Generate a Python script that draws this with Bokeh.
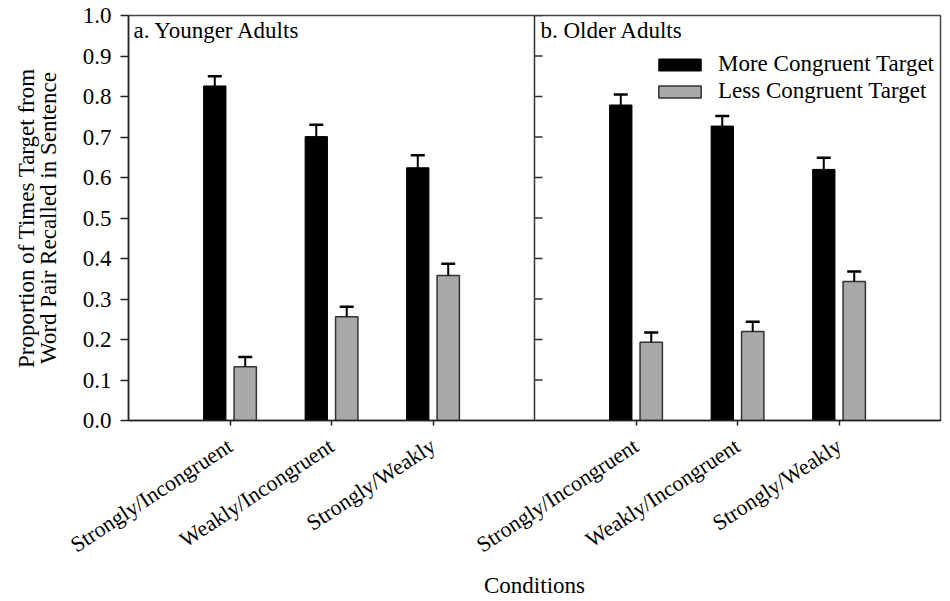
import math
from bokeh.plotting import figure
from bokeh.models import (Range1d, FixedTicker, Span, Label, Legend, LegendItem,
                          Whisker, TeeHead, ColumnDataSource, PrintfTickFormatter)
from bokeh.embed import file_html
from bokeh.resources import INLINE

# ---------------- data ----------------
conditions = ["Strongly/Incongruent", "Weakly/Incongruent", "Strongly/Weakly"]
panels = ["a. Younger Adults", "b. Older Adults"]
series = ["More Congruent Target", "Less Congruent Target"]

young_more = [0.826, 0.701, 0.624]
young_more_err = [0.024, 0.029, 0.031]
young_less = [0.133, 0.256, 0.358]
young_less_err = [0.024, 0.025, 0.029]

older_more = [0.779, 0.727, 0.620]
older_more_err = [0.026, 0.025, 0.029]
older_less = [0.193, 0.220, 0.343]
older_less_err = [0.024, 0.024, 0.025]

y_ticks = [0.0, 0.1, 0.2, 0.3, 0.4, 0.5, 0.6, 0.7, 0.8, 0.9, 1.0]

FONT = "Liberation Serif"
FS = "23px"
FS_X = "22px"

# positions: panel a at 1..3, panel b at 5..7 (divider at 4)
pos_a = [i + 1 for i in range(len(conditions))]
pos_b = [i + 5 for i in range(len(conditions))]
centers = pos_a + pos_b
off = 0.15
bw = 0.22

more_vals = young_more + older_more
more_err = young_more_err + older_more_err
less_vals = young_less + older_less
less_err = young_less_err + older_less_err

src_more = ColumnDataSource(dict(
    x=[c - off for c in centers], top=more_vals,
    upper=[v + e for v, e in zip(more_vals, more_err)]))
src_less = ColumnDataSource(dict(
    x=[c + off for c in centers], top=less_vals,
    upper=[v + e for v, e in zip(less_vals, less_err)]))

p = figure(width=948, height=600, x_range=Range1d(0, 8), y_range=Range1d(0, 1.0),
           output_backend="svg", toolbar_location=None,
           min_border_left=128, min_border_right=8, min_border_top=15, min_border_bottom=178)

p.xgrid.visible = False
p.ygrid.visible = False
p.outline_line_color = "#444444"
p.outline_line_width = 1.5
p.background_fill_color = "white"
p.border_fill_color = "white"

r_more = p.vbar(x="x", top="top", width=bw, source=src_more,
                fill_color="black", line_color="black", line_width=1)
r_less = p.vbar(x="x", top="top", width=bw, source=src_less,
                fill_color="#a9a9a9", line_color="#333333", line_width=1.5)

for src in (src_more, src_less):
    p.add_layout(Whisker(base="x", lower="top", upper="upper", source=src,
                         dimension="height", lower_head=None,
                         upper_head=TeeHead(size=14, line_width=2.5, line_color="black"),
                         line_width=2, line_color="black", level="overlay"))

# divider between panels with inward ticks
p.add_layout(Span(location=4, dimension="height", line_color="#333333", line_width=1.5))
p.ray(x=[4] * (len(y_ticks) - 1), y=y_ticks[1:], length=8, length_units="screen",
      angle=0, line_color="#333333", line_width=1.5)

# y axis
yax = p.yaxis[0]
yax.ticker = FixedTicker(ticks=y_ticks)
yax.formatter = PrintfTickFormatter(format="%.1f")
yax.major_tick_out = 8
yax.major_tick_in = 0
yax.minor_tick_line_color = None
yax.major_label_standoff = 9
yax.major_label_text_font = FONT
yax.major_label_text_font_size = FS
yax.major_label_text_color = "black"
yax.axis_line_color = "#222222"
yax.axis_line_width = 1.5
yax.major_tick_line_color = "#222222"
yax.major_tick_line_width = 1.5
yax.axis_label = "Proportion of Times Target from\nWord Pair Recalled in Sentence"
yax.axis_label_text_font = FONT
yax.axis_label_text_font_size = FS
yax.axis_label_text_font_style = "normal"
yax.axis_label_text_color = "black"
yax.axis_label_text_line_height = 0.88
yax.axis_label_standoff = 19

# x axis
xax = p.xaxis[0]
xax.ticker = FixedTicker(ticks=centers)
xax.major_label_overrides = {c: conditions[i % 3] for i, c in enumerate(centers)}
xax.major_label_orientation = 0.58
xax.major_tick_out = 5
xax.major_tick_in = 0
xax.minor_tick_line_color = None
xax.major_label_standoff = 18
xax.major_label_text_font = FONT
xax.major_label_text_font_size = FS_X
xax.major_label_text_color = "black"
xax.axis_line_color = "#222222"
xax.axis_line_width = 1.5
xax.major_tick_line_color = "#222222"
xax.major_tick_line_width = 1.5
xax.axis_label = "Conditions"
xax.axis_label_text_font = FONT
xax.axis_label_text_font_size = FS
xax.axis_label_text_font_style = "normal"
xax.axis_label_text_color = "black"
xax.axis_label_standoff = 2

# panel titles
p.add_layout(Label(x=0, y=1.0, x_offset=5, y_offset=-2, text=panels[0],
                   text_baseline="top", text_align="left",
                   text_font=FONT, text_font_size=FS, text_color="black"))
p.add_layout(Label(x=4, y=1.0, x_offset=6, y_offset=-2, text=panels[1],
                   text_baseline="top", text_align="left",
                   text_font=FONT, text_font_size=FS, text_color="black"))

legend = Legend(items=[LegendItem(label=series[0], renderers=[r_more]),
                       LegendItem(label=series[1], renderers=[r_less])],
                location=(525, 316), orientation="vertical",
                glyph_width=53, glyph_height=15, label_standoff=12,
                label_text_font=FONT, label_text_font_size=FS, label_text_color="black",
                padding=0, margin=0, spacing=1,
                border_line_color=None, background_fill_alpha=0)
p.add_layout(legend)

open("out.html", "w").write(file_html(p, INLINE))
